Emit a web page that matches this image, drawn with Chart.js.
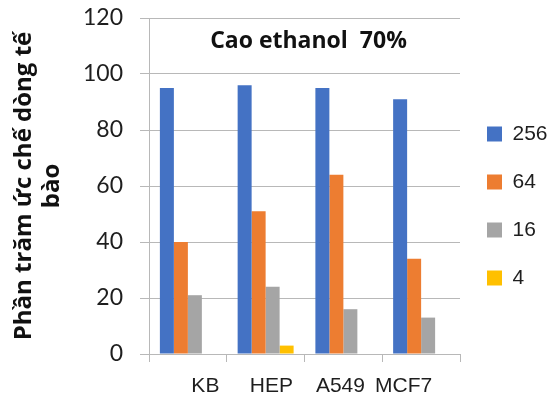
<!DOCTYPE html>
<html>
<head>
<meta charset="utf-8">
<script src="https://cdn.jsdelivr.net/npm/chart.js@4/dist/chart.umd.min.js"></script>
<style>
  html, body { margin: 0; padding: 0; background: #ffffff; }
  #wrap { width: 552px; height: 394px; position: relative; }
</style>
</head>
<body>
<div id="wrap"><canvas id="c"></canvas></div>
<script>
// Cell lines tested
const categories = ['KB', 'HEP', 'A549', 'MCF7'];
// Concentration series (legend labels)
const seriesNames = ['256', '64', '16', '4'];
// Inhibition percentage per concentration
const values256 = [95, 96, 95, 91];
const values64 = [40, 51, 64, 34];
const values16 = [21, 24, 16, 13];
const values4 = [0, 3, 0, 0];
// Y axis range
const yMin = 0;
const yMax = 120;
const yStep = 20;

const chartTitle = 'Cao ethanol  70%';
const yTitle = ['Phần trăm ức chế dòng tế', 'bào'];

// Horizontal nudge of each category label, in space characters
// (positive = pushed right, negative = pushed left)
const labelNudge = [6, 2, -1, -6];

const colors = ['#4472C4', '#ED7D31', '#A5A5A5', '#FFC000'];
const gridColor = '#b8b8b8';
const textColor = '#1e1e1e';
const sansFont = '"Liberation Sans", Arial, sans-serif';

const seriesValues = [values256, values64, values16, values4];

// Title drawn inside the plotting area, near its top
const innerTitle = {
  id: 'innerTitle',
  afterDraw(chart) {
    const { ctx, chartArea } = chart;
    ctx.save();
    ctx.font = 'bold 23px "Open Sans"';
    ctx.fillStyle = '#111111';
    ctx.textAlign = 'center';
    ctx.textBaseline = 'alphabetic';
    ctx.fillText(chartTitle, (chartArea.left + chartArea.right) / 2 + 4, chartArea.top + 30);
    ctx.restore();
  }
};

new Chart(document.getElementById('c'), {
  type: 'bar',
  data: {
    labels: categories,
    datasets: seriesNames.map((name, i) => ({
      label: name,
      data: seriesValues[i],
      backgroundColor: colors[i],
      borderWidth: 0
    }))
  },
  options: {
    responsive: true,
    maintainAspectRatio: false,
    animation: false,
    devicePixelRatio: 1,
    datasets: { bar: { categoryPercentage: 0.72, barPercentage: 1.0 } },
    layout: { padding: { top: 18, right: 0, bottom: 0, left: 0 } },
    plugins: {
      legend: {
        position: 'right',
        maxWidth: 92,
        labels: {
          boxWidth: 15,
          boxHeight: 15,
          padding: 27,
          color: textColor,
          font: { family: sansFont, size: 21 }
        }
      },
      title: { display: false },
      tooltip: { enabled: false }
    },
    scales: {
      x: {
        grid: {
          drawOnChartArea: false,
          drawTicks: true,
          tickLength: 8,
          color: gridColor,
          offset: true
        },
        border: { color: gridColor, width: 1 },
        ticks: {
          color: textColor,
          padding: 12,
          autoSkip: false,
          maxRotation: 0,
          minRotation: 0,
          font: { family: sansFont, size: 21 },
          callback(value, index) {
            const label = this.getLabelForValue(value);
            const n = labelNudge[index] || 0;
            return n >= 0 ? ' '.repeat(n) + label : label + ' '.repeat(-n);
          }
        },
        afterFit(scale) {
          scale.height = 40;
          scale.paddingLeft = 0;
          scale.paddingRight = 0;
        }
      },
      y: {
        min: yMin,
        max: yMax,
        grid: { color: gridColor, tickLength: 9 },
        border: { color: gridColor, width: 1 },
        ticks: {
          stepSize: yStep,
          padding: 17,
          color: textColor,
          font: { family: 'Lato, sans-serif', size: 23 }
        },
        title: {
          display: true,
          text: yTitle,
          color: '#111111',
          font: { family: '"Open Sans", sans-serif', weight: 'bold', size: 24, lineHeight: 28 / 24 },
          padding: { top: 10, bottom: 0 }
        },
        afterFit(scale) {
          scale.width = 149;
          scale.paddingTop = 0;
          scale.paddingBottom = 0;
        }
      }
    }
  },
  plugins: [innerTitle]
});
</script>
</body>
</html>
